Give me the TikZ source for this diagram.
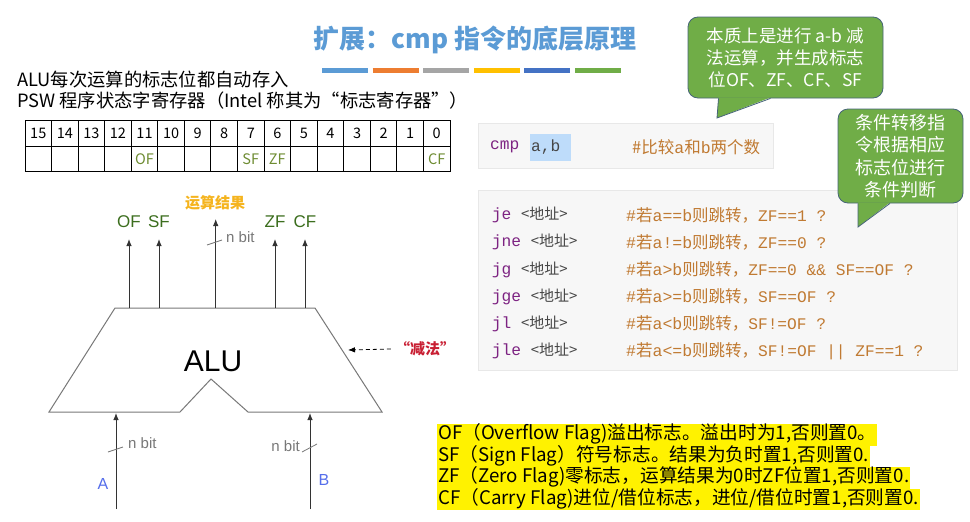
\documentclass[tikz,border=0pt]{standalone}
\usepackage{fontspec}
\setmainfont{Noto Sans CJK SC}
\newfontfamily\cjkfont{Noto Sans CJK SC}
\newfontfamily\monofont{Liberation Mono}
\newfontfamily\helvfont{Liberation Sans}
\usetikzlibrary{arrows.meta,positioning}
\definecolor{titleBlue}{RGB}{91,155,213}
\definecolor{barOrange}{RGB}{237,125,49}
\definecolor{barGray}{RGB}{165,165,165}
\definecolor{barYellow}{RGB}{255,192,0}
\definecolor{barBlue}{RGB}{68,114,196}
\definecolor{barGreen}{RGB}{112,173,71}
\definecolor{flagOlive}{RGB}{110,140,50}
\definecolor{flagGreen}{RGB}{60,110,30}
\definecolor{resOrange}{RGB}{245,180,30}
\definecolor{subRed}{RGB}{200,30,50}
\definecolor{inBlue}{RGB}{85,110,235}
\definecolor{wireGray}{RGB}{120,120,120}
\definecolor{opPurple}{RGB}{125,35,130}
\definecolor{cmtBrown}{RGB}{192,122,50}
\definecolor{addrGray}{RGB}{70,70,70}
\definecolor{codeBg}{RGB}{247,247,247}
\definecolor{codeLine}{RGB}{232,232,232}
\definecolor{argBlue}{RGB}{190,220,250}
\definecolor{bubbleGreen}{RGB}{112,173,71}
\definecolor{bubbleEdge}{RGB}{70,100,120}
\newcommand{\mo}[1]{{\monofont #1}}

\begin{document}
\begin{tikzpicture}[x=1pt,y=-1pt,
  cell/.style={draw, line width=0.9pt, minimum width=26.5625pt, minimum height=25.3pt, inner sep=0pt, font=\fontsize{14.5}{16}\selectfont},
  flagtxt/.style={text=flagOlive, font=\fontsize{14.5}{16}\selectfont},
  bar/.style={line width=5pt},
  sig/.style={draw=black!80, line width=0.9pt, -{Latex[length=7pt,width=5.5pt]}},
  outlbl/.style={text=flagGreen, inner sep=0pt, anchor=south, font=\helvfont\fontsize{17}{19}\selectfont},
  nbit/.style={text=wireGray, inner sep=0pt, font=\helvfont\fontsize{15}{17}\selectfont},
  tick/.style={draw=wireGray, line width=0.8pt},
  codeop/.style={anchor=west, inner sep=0pt, font=\monofont\fontsize{16.2}{18}\selectfont},
  cmt/.style={anchor=west, inner sep=0pt, text=cmtBrown, font=\fontsize{16.5}{18}\selectfont},
  bubble/.style={rectangle, fill=bubbleGreen, draw=bubbleEdge, line width=0.8pt, rounded corners=10pt, text=white, align=center, inner sep=0pt, font=\fontsize{17.5}{22}\selectfont},
  hilite/.style={anchor=west, fill=yellow, inner xsep=1pt, inner ysep=0pt, text height=15.5pt, text depth=6pt, font=\fontsize{18.7}{21}\selectfont}
]
\useasboundingbox[fill=white] (0,0) rectangle (970,522);

% title and colour bars
\node[text=titleBlue, font=\bfseries\fontsize{26}{30}\selectfont] (title) at (475,40) {扩展：cmp 指令的底层原理};
\foreach \c [count=\i from 0] in {titleBlue,barOrange,barGray,barYellow,barBlue,barGreen}
  \draw[bar,\c] ({322+50.6*\i},70.5) -- ++(46,0);

% PSW register
\node[anchor=west, inner sep=0pt, font=\fontsize{18.3}{20}\selectfont] (alunote) at (17,80) {ALU每次运算的标志位都自动存入};
\node[anchor=west, inner sep=0pt, font=\fontsize{18.3}{20}\selectfont] (pswnote) at (17,101) {PSW 程序状态字寄存器（Intel 称其为“标志寄存器”）};
\foreach \b [count=\i from 0] in {15,14,...,0} {
  \node[cell] (bit\b) at ({25+26.5625*(\i+0.5)},133.5) {\b};
  \node[cell] (flag\b) at ({25+26.5625*(\i+0.5)},158.8) {};
}
\foreach \b/\f in {11/OF,7/SF,6/ZF,0/CF}
  \node[flagtxt] at (flag\b) {\f};

% ALU body
\coordinate (tl) at (115,308);
\coordinate (tr) at (315,308);
\coordinate (br) at (382,412);
\coordinate (nr) at (248,412);
\coordinate (np) at (211,379);
\coordinate (nl) at (180,412);
\coordinate (bl) at (49,412);
\draw[draw=wireGray, line width=1pt] (tl) -- (tr) -- (br) -- (nr) -- (np) -- (nl) -- (bl) -- cycle;
\node[font=\helvfont\fontsize{30}{32}\selectfont] (alu) at (213,361) {ALU};

% outputs
\foreach \n/\x/\t in {of/129/OF,sf/159/SF,zf/275/ZF,cf/305/CF} {
  \coordinate (\n-out) at (\x,308);
  \coordinate (\n-tip) at (\x,239);
  \node[outlbl] (\n-lbl) at ([yshift=11pt]\n-tip) {\t};
  \draw[sig] (\n-out) -- (\n-tip);
}
\coordinate (res-out) at (215.7,308);
\coordinate (res-tip) at (215.7,219);
\draw[sig] (res-out) -- (res-tip);
\node[text=resOrange, font=\bfseries\fontsize{15}{17}\selectfont] (reslbl) at (215,203) {运算结果};
\draw[tick] (207,245) -- (222,240);
\node[nbit, anchor=west] (resbit) at (226,237) {n bit};

% inputs
\coordinate (a-src) at (116,509);
\coordinate (a-in) at (116,413);
\coordinate (b-src) at (310,509);
\coordinate (b-in) at (310,413);
\draw[sig] (a-src) -- (a-in);
\draw[sig] (b-src) -- (b-in);
\draw[tick] (108,452) -- (123,447);
\draw[tick] (302,452) -- (317,444);
\node[nbit, anchor=west] (abit) at (128,443) {n bit};
\node[nbit, anchor=east] (bbit) at (300,446) {n bit};
\node[text=inBlue, font=\helvfont\fontsize{16}{18}\selectfont] (albl) at (103,484) {A};
\node[text=inBlue, font=\helvfont\fontsize{16}{18}\selectfont] (blbl) at (324,480) {B};

% subtraction hint
\node[text=subRed, inner sep=0pt, font=\bfseries\fontsize{15}{17}\selectfont] (sublbl) at (425,349) {“减法”};
\coordinate (sub-tip) at (348,350);
\draw[dash pattern=on 4pt off 3pt, line width=0.8pt, -{Latex[length=7pt,width=5.5pt]}] ([xshift=-4pt]sublbl.west) -- (sub-tip);

% cmp line
\draw[fill=codeBg, draw=codeLine] (478,123) rectangle (773,168);
\node[codeop, text=opPurple] (cmpop) at (490,147) {cmp};
\node[fill=argBlue, anchor=west, inner xsep=1pt, minimum height=27pt, text=addrGray, font=\monofont\fontsize{16.2}{18}\selectfont] (cmpargs) at (530,147) {a,b\hspace*{9.7pt}};
\node[cmt] (cmpcmt) at (632,147) {\#比较\mo{a}和\mo{b}两个数};

% jump instructions
\draw[fill=codeBg, draw=codeLine] (478,190) rectangle (957,370);
\foreach \op/\pre/\mid/\post [count=\k from 0] in {
  je/\mo{\#}若\mo{a==b}/则跳转，/ZF==1 ?,
  jne/\mo{\#}若\mo{a!=b}/则跳转，/ZF==0 ?,
  jg/\mo{\#}若\mo{a>b}/则跳转，/ZF==0 \&\& SF==OF ?,
  jge/\mo{\#}若\mo{a>=b}/则跳转，/SF==OF ?,
  jl/\mo{\#}若\mo{a<b}/则跳转，/SF!=OF ?,
  jle/\mo{\#}若\mo{a<=b}/则跳转，/SF!=OF || ZF==1 ?} {
  \node[codeop] (op\k) at (491.7,{215+27.2*\k}) {\textcolor{opPurple}{\op}\ {\color{addrGray}\cjkfont\fontsize{15}{18}\selectfont <地址>}};
  \node[cmt] (cm\k) at (626,{215+27.2*\k}) {\pre\mid{\monofont\fontsize{16.2}{18}\selectfont\post}};
}

% callouts
\node[bubble, minimum width=195pt, minimum height=81pt] (note1) at (785.5,57.5) {本质上是进行 a-b 减\\法运算，并生成标志\\位OF、ZF、CF、SF};
\coordinate (note1-tip) at (717,118);
\fill[bubbleGreen] ([xshift=-67pt,yshift=1pt]note1.south) -- (note1-tip) -- ([xshift=-15pt,yshift=1pt]note1.south) -- cycle;
\draw[bubbleEdge, line width=0.8pt] ([xshift=-67pt]note1.south) -- (note1-tip) -- ([xshift=-15pt]note1.south);

\node[bubble, minimum width=125pt, minimum height=94pt, font=\fontsize{18}{22.5}\selectfont] (note2) at (900.5,156) {条件转移指\\令根据相应\\标志位进行\\条件判断};
\coordinate (note2-tip) at (858,227);
\fill[bubbleGreen] ([xshift=-42.5pt,yshift=1pt]note2.south) -- (note2-tip) -- ([xshift=-10.5pt,yshift=1pt]note2.south) -- cycle;
\draw[bubbleEdge, line width=0.8pt] ([xshift=-42.5pt]note2.south) -- (note2-tip) -- ([xshift=-10.5pt]note2.south);

% flag descriptions
\node[hilite] (descof) at (437,435) {OF（Overflow Flag)溢出标志。溢出时为1,否则置0。};
\node[hilite] (descsf) at (437,456.5) {SF（Sign Flag）符号标志。结果为负时置1,否则置0.};
\node[hilite] (desczf) at (437,478) {ZF（Zero Flag)零标志，运算结果为0时ZF位置1,否则置0.};
\node[hilite] (desccf) at (437,499.5) {CF（Carry Flag)进位/借位标志，进位/借位时置1,否则置0.};
\end{tikzpicture}
\end{document}
